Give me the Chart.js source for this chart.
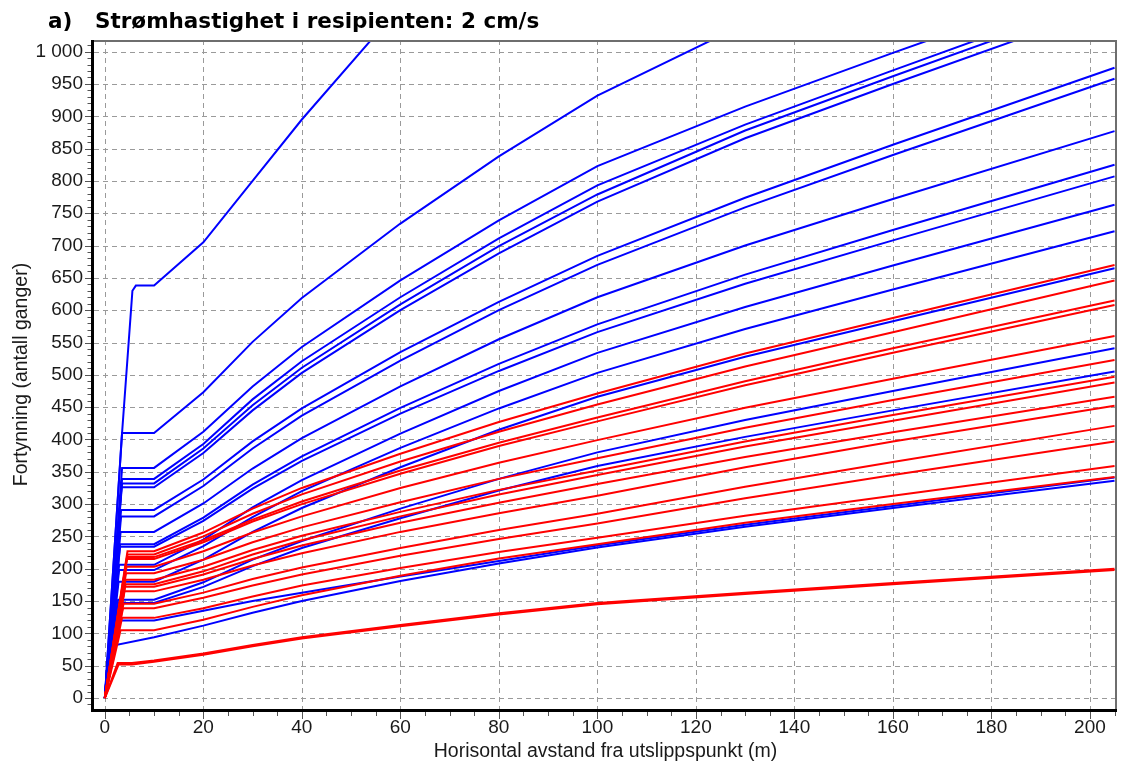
<!DOCTYPE html>
<html>
<head>
<meta charset="utf-8">
<title>Fortynning</title>
<script src="https://cdn.jsdelivr.net/npm/chart.js@4.4.0/dist/chart.umd.min.js"></script>
<style>
  body { margin: 0; background: #fff; }
  #wrap { width: 1136px; height: 765px; }
</style>
</head>
<body>
<div id="wrap"><canvas id="fortynning" width="1136" height="765"></canvas></div>
<script>
// distances (m) where every curve has a value
const distance = [10, 20, 30, 40, 60, 80, 100, 130, 160, 205];

const xTicks = [0, 20, 40, 60, 80, 100, 120, 140, 160, 180, 200];
const yTicks = [0, 50, 100, 150, 200, 250, 300, 350, 400, 450, 500, 550, 600, 650, 700, 750, 800, 850, 900, 950, 1000];

// first part of each curve, between the outlet and 10 m
const blueStartX = [[3.4, 5.6, 6.3], [3.5], [3.5], [3.5], [3.5], [3.4], [3.3], [3.3], [3.2], [3.1], [3.1], [2.9], [2.9], [2.8], [2.7], [2.6], [2.4], [2.2]];
const blueStartY = [[400, 630, 638], [410], [356], [339], [332], [326], [291], [281], [257], [238], [234], [206], [198], [180], [152], [147], [120], [82]];
const blueValues = [
  [638, 705, 800, 895, 1070, 1220, 1360, 1560, 1750, 2000],
  [410, 473, 551, 619, 734, 838, 932, 1043, 1143, 1290],
  [356, 412, 482, 543, 646, 739, 823, 915, 998, 1120],
  [339, 393, 462, 521, 620, 711, 793, 887, 971, 1095],
  [332, 386, 453, 511, 609, 699, 779, 878, 962, 1085],
  [326, 379, 445, 503, 600, 688, 768, 866, 950, 1072],
  [291, 338, 397, 448, 535, 613, 684, 774, 856, 975],
  [281, 328, 386, 437, 522, 600, 670, 759, 840, 958],
  [257, 301, 355, 402, 482, 555, 620, 700, 772, 877],
  [238, 279, 330, 374, 449, 517, 578, 655, 724, 825],
  [234, 274, 324, 367, 440, 506, 566, 641, 708, 807],
  [206, 245, 295, 337, 409, 475, 534, 605, 669, 763],
  [198, 235, 280, 320, 387, 448, 503, 571, 632, 722],
  [180, 214, 257, 294, 357, 415, 466, 528, 583, 665],
  [152, 179, 214, 243, 293, 339, 380, 430, 475, 541],
  [147, 172, 204, 232, 278, 321, 359, 404, 445, 505],
  [120, 135, 150, 163, 188, 212, 236, 268, 297, 341],
  [94, 112, 132, 150, 181, 208, 233, 265, 294, 336]
];

const redStartX = [[4.6], [4.6], [4.5], [4.5], [4.4], [4.3], [4.2], [4.2], [4.1], [4.0], [3.8], [3.7], [3.5], [3.2], [2.6, 5.5], [2.8, 5.5]];
const redStartY = [[227], [222], [218], [215], [203], [193], [183], [176], [172], [165], [146], [139], [124], [105], [54, 54], [52, 52]];
const redValues = [
  [227, 256, 293, 325, 378, 427, 471, 533, 588, 670],
  [222, 250, 285, 315, 366, 412, 454, 513, 566, 646],
  [218, 244, 276, 304, 352, 395, 434, 490, 541, 615],
  [215, 241, 273, 300, 347, 390, 428, 484, 534, 608],
  [203, 227, 256, 281, 325, 364, 399, 449, 494, 560],
  [193, 214, 241, 264, 303, 339, 371, 418, 461, 523],
  [183, 203, 229, 251, 288, 322, 352, 397, 438, 497],
  [176, 196, 222, 244, 281, 315, 345, 389, 429, 488],
  [172, 191, 215, 236, 271, 302, 331, 373, 411, 466],
  [165, 183, 205, 224, 257, 286, 313, 357, 397, 452],
  [146, 163, 184, 202, 232, 260, 285, 327, 365, 421],
  [139, 155, 174, 191, 220, 246, 270, 309, 345, 397],
  [124, 139, 157, 174, 201, 226, 248, 282, 313, 359],
  [105, 121, 141, 159, 189, 216, 238, 271, 300, 342],
  [58, 69, 82, 94, 113, 131, 147, 163, 178, 200],
  [56, 67, 80, 92, 111, 129, 145, 161, 176, 198]
];

function buildCurve(startX, startY, values) {
  const pts = [{ x: 0, y: 0 }];
  startX.forEach((x, i) => pts.push({ x: x, y: startY[i] }));
  distance.forEach((x, i) => pts.push({ x: x, y: values[i] }));
  return pts;
}

function curveSet(startX, startY, values, color) {
  return values.map((v, i) => ({
    data: buildCurve(startX[i], startY[i], v),
    borderColor: color,
    borderWidth: 2,
    pointRadius: 0,
    fill: false,
    tension: 0
  }));
}

function thousands(v) {
  return String(v).replace(/\B(?=(\d{3})+(?!\d))/g, ' ');
}

// dashed grid, frame, major/minor tick marks and the heading
const framePlugin = {
  id: 'frame',
  beforeDatasetsDraw(chart) {
    const { ctx, chartArea: a, scales: { x, y } } = chart;
    ctx.save();
    ctx.strokeStyle = '#9a9a9a';
    ctx.lineWidth = 1;
    ctx.setLineDash([5, 4]);
    ctx.beginPath();
    xTicks.forEach(v => {
      const px = Math.round(x.getPixelForValue(v)) + 0.5;
      ctx.moveTo(px, a.top);
      ctx.lineTo(px, a.bottom);
    });
    yTicks.forEach(v => {
      const py = Math.round(y.getPixelForValue(v)) + 0.5;
      ctx.moveTo(a.left, py);
      ctx.lineTo(a.right, py);
    });
    ctx.stroke();
    ctx.restore();
  },
  afterDatasetsDraw(chart) {
    const { ctx, chartArea: a, scales: { x, y } } = chart;
    ctx.save();
    // top and right edge
    ctx.strokeStyle = '#6e6e6e';
    ctx.lineWidth = 2;
    ctx.beginPath();
    ctx.moveTo(a.left, a.top + 1);
    ctx.lineTo(a.right - 1, a.top + 1);
    ctx.lineTo(a.right - 1, a.bottom);
    ctx.stroke();
    // axis lines
    ctx.strokeStyle = '#000';
    ctx.lineWidth = 3;
    ctx.beginPath();
    ctx.moveTo(a.left - 1.5, a.top);
    ctx.lineTo(a.left - 1.5, a.bottom + 1.5);
    ctx.lineTo(a.right, a.bottom + 1.5);
    ctx.stroke();
    // tick marks
    ctx.strokeStyle = '#555';
    ctx.lineWidth = 1;
    ctx.beginPath();
    for (let v = -10; v <= 1010; v += 10) {
      const py = Math.round(y.getPixelForValue(v)) + 0.5;
      const len = v % 50 === 0 ? 6 : 3.5;
      ctx.moveTo(a.left - 3, py);
      ctx.lineTo(a.left - 3 - len, py);
    }
    for (let v = 0; v <= 205; v += 5) {
      const px = Math.round(x.getPixelForValue(v)) + 0.5;
      const len = v % 20 === 0 ? 7 : 4;
      ctx.moveTo(px, a.bottom + 3);
      ctx.lineTo(px, a.bottom + 3 + len);
    }
    ctx.stroke();
    ctx.restore();
  },
  afterDraw(chart) {
    const ctx = chart.ctx;
    ctx.save();
    ctx.fillStyle = '#000';
    ctx.font = 'bold 21.5px "DejaVu Sans", Verdana, sans-serif';
    ctx.textBaseline = 'alphabetic';
    ctx.fillText('a)', 48, 28);
    ctx.fillText('Strømhastighet i resipienten: 2 cm/s', 95, 28);
    ctx.restore();
  }
};

const axisFont = { family: '"Liberation Sans", Arial, sans-serif', size: 19 };
const titleFont = { family: '"Liberation Sans", Arial, sans-serif', size: 19.5 };

new Chart(document.getElementById('fortynning'), {
  type: 'line',
  data: {
    datasets: [
      ...curveSet(redStartX, redStartY, redValues, '#ff0000'),
      ...curveSet(blueStartX, blueStartY, blueValues, '#0000ff')
    ]
  },
  options: {
    responsive: false,
    animation: false,
    layout: { padding: { top: 40, right: 19, bottom: 0, left: 0 } },
    plugins: {
      legend: { display: false },
      tooltip: { enabled: false }
    },
    scales: {
      x: {
        type: 'linear',
        min: -2.2,
        max: 205.5,
        grid: { display: false, drawTicks: false },
        border: { display: false },
        afterBuildTicks: s => { s.ticks = xTicks.map(v => ({ value: v })); },
        afterFit: s => { s.height = 56; },
        ticks: { font: axisFont, color: '#1a1a1a', padding: 7, maxRotation: 0 },
        title: {
          display: true,
          text: 'Horisontal avstand fra utslippspunkt (m)',
          font: titleFont,
          color: '#1a1a1a',
          padding: { top: 0, bottom: 2 }
        }
      },
      y: {
        min: -17,
        max: 1018,
        grid: { display: false, drawTicks: false },
        border: { display: false },
        afterBuildTicks: s => { s.ticks = yTicks.map(v => ({ value: v })); },
        afterFit: s => { s.width = 94; },
        ticks: { font: axisFont, color: '#1a1a1a', padding: 11, callback: v => thousands(v) },
        title: {
          display: true,
          text: 'Fortynning (antall ganger)',
          font: titleFont,
          color: '#1a1a1a',
          padding: { top: 10, bottom: 0 }
        }
      }
    }
  },
  plugins: [framePlugin]
});
</script>
</body>
</html>
